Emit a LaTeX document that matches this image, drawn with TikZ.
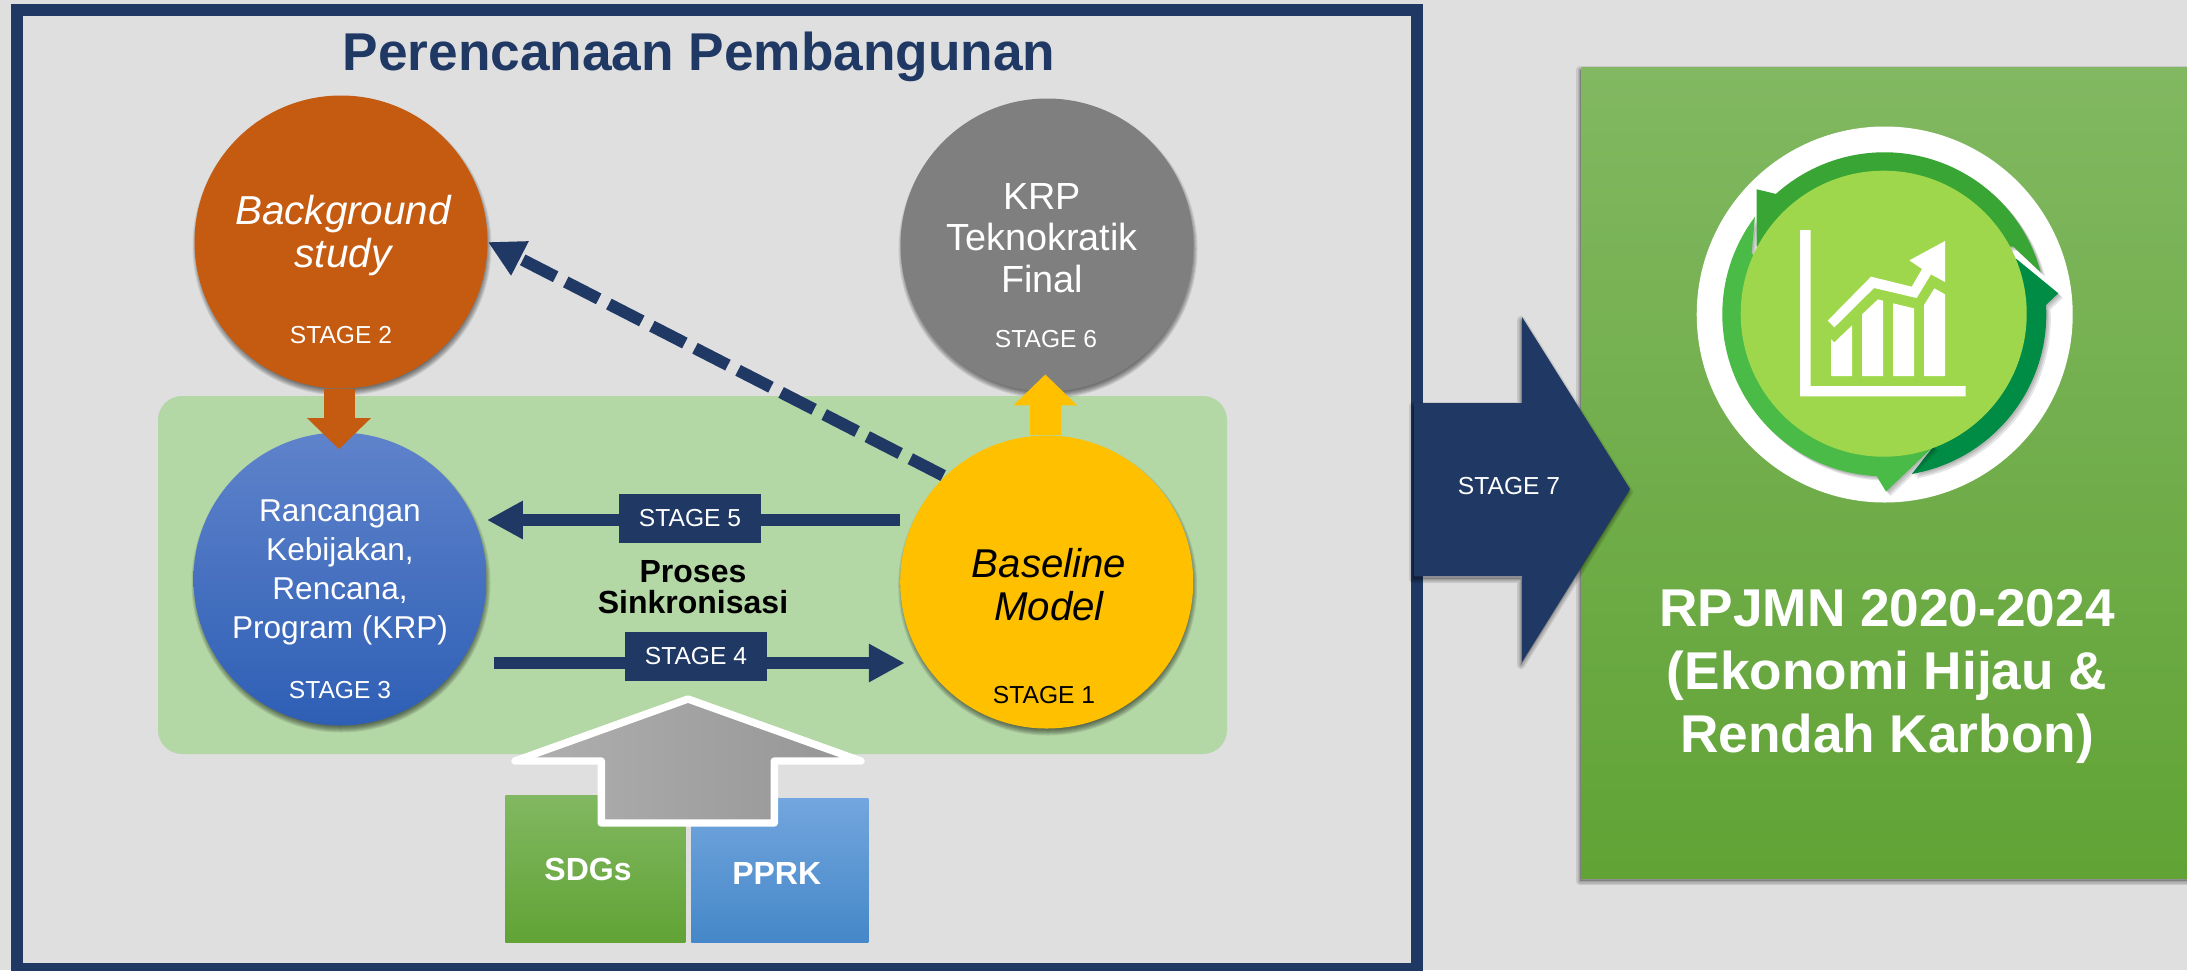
\documentclass[tikz,border=0pt]{standalone}
\usepackage{fontspec}
\setmainfont{Liberation Sans}
\usetikzlibrary{arrows.meta}
\pgfdeclarelayer{back}\pgfdeclarelayer{mid}
\pgfsetlayers{back,mid,main}
\definecolor{navy}{HTML}{1F3864}
\definecolor{pagegray}{HTML}{DFDFDF}
\definecolor{panelgreen}{HTML}{B4D7A6}
\definecolor{orangec}{HTML}{C55A11}
\definecolor{yellowc}{HTML}{FFC000}
\definecolor{grayc}{HTML}{7F7F7F}
\definecolor{gA}{HTML}{81B861}\definecolor{gB}{HTML}{6FB041}\definecolor{gC}{HTML}{61A335}
\definecolor{bA}{HTML}{5F83CB}\definecolor{bB}{HTML}{3E70CA}\definecolor{bC}{HTML}{2E5FB5}
\definecolor{pA}{HTML}{72A6DE}\definecolor{pB}{HTML}{5A9BDA}\definecolor{pC}{HTML}{4587C8}
\definecolor{ringA}{HTML}{38A535}\definecolor{ringB}{HTML}{008C44}\definecolor{ringC}{HTML}{4BBB47}
\definecolor{leaf}{HTML}{9ED74B}
\definecolor{arrL}{HTML}{B0B0B0}\definecolor{arrR}{HTML}{959595}
\newcommand\softcircle[3]{\foreach \d in {-3,-2,-1,0,1,2,3}{\fill[black,opacity=.09] ({#1+1},{#2+4}) circle[radius={(#3+\d)*0.5pt}];}}
\newcommand\softpath[3]{\foreach \w in {4,2.5,1}{\draw[draw=black,draw opacity=.1,line join=round,line width=\w pt,shift={(#1,#2)}] #3;}\fill[black,opacity=.2,shift={(#1,#2)}] #3;}
\newcommand\ringarrow[2]{\foreach \d in {1.5,3,4.5}{\fill[black,opacity=.1,shift={(\d,-\d)}] #2;}\fill[#1] #2;}
\tikzset{
  bigcircle/.style={circle,inner sep=0pt,minimum size=146.5pt},
  stagetxt/.style={font=\fontsize{12.3}{14}\selectfont,anchor=base,inner sep=0pt},
  bodytxt/.style={font=\fontsize{19}{21.5}\selectfont,align=center,inner sep=0pt},
  stagebox/.style={fill=navy,text=white,inner sep=0pt,minimum width=71pt,minimum height=24.5pt,font=\fontsize{12.3}{14}\selectfont},
  thinconn/.style={draw=navy,line width=6pt,-{Triangle[width=18pt,length=18pt]}},
  blockconn/.style={line width=15.5pt,-{Triangle[width=31pt,length=15.5pt]}}
}
\begin{document}
\begin{tikzpicture}[x=0.5pt,y=-0.5pt]
\useasboundingbox (0,0) rectangle (2187,970);
\clip (0,0) rectangle (2187,970);
\begin{pgfonlayer}{back}
\fill[pagegray] (0,0) rectangle (2187,970);
\fill[navy] (11,4) rectangle (1423,985);
\fill[pagegray] (23,16) rectangle (1411,963);
\fill[panelgreen,rounded corners=12pt] (158,396) rectangle (1227,754);
\end{pgfonlayer}

\node[font=\fontsize{26.6}{30}\bfseries\selectfont,text=navy,anchor=base,inner sep=0pt] (title) at (699,70) {Perencanaan Pembangunan};

% circles
\softcircle{341}{242}{146.5}
\node[bigcircle,fill=orangec] (bg) at (341,242) {};
\softcircle{1047}{245}{146.5}
\node[bigcircle,fill=grayc] (krp) at (1047,245) {};
\softcircle{340}{579}{146.5}
\node[bigcircle,top color=bA,middle color=bB,bottom color=bC] (ran) at (340,579) {};
\softcircle{1046.7}{582}{146.5}
\node[bigcircle,fill=yellowc] (base) at (1046.7,582) {};

% block arrows
\draw[blockconn,draw=orangec,shorten >=-8.5pt] ([xshift=-1pt]bg.south) -- ([xshift=-.5pt]ran.north);
\draw[blockconn,draw=yellowc,shorten >=-8.75pt] ([xshift=-.7pt]base.north) -- ([xshift=-.85pt]krp.south);

% labels in circles
\node[bodytxt,text=white,font=\fontsize{20.2}{21.5}\itshape\selectfont] (bgt) at (343,235.5) {Background\\study};
\node[stagetxt,text=white] (st2) at (341,343.3) {STAGE 2};
\node[bodytxt,text=white,font=\fontsize{18.9}{20.7}\selectfont] (krpt) at (1042,238) {KRP\\Teknokratik\\Final};
\node[stagetxt,text=white] (st6) at (1046,347) {STAGE 6};
\node[bodytxt,text=white,font=\fontsize{15.8}{19.5}\selectfont] (rant) at (340,572) {Rancangan\\Kebijakan,\\Rencana,\\Program (KRP)};
\node[stagetxt,text=white] (st3) at (340,698) {STAGE 3};
\node[bodytxt,text=black,font=\fontsize{20.1}{21.5}\itshape\selectfont] (baset) at (1049,585) {Baseline\\Model};
\node[stagetxt,text=black] (st1) at (1044,703) {STAGE 1};

% stage boxes and connectors
\node[stagebox] (s5) at (690,518.5) {STAGE 5};
\node[stagebox] (s4) at (696,656.5) {STAGE 4};
\begin{pgfonlayer}{mid}
\draw[thinconn] ([yshift=-.75pt]base.west |- s5) -- ([yshift=-.75pt]ran.east |- s5);
\draw[thinconn,shorten <=3.75pt,shorten >=-2.5pt] ([yshift=-3.25pt]ran.east |- s4) -- ([yshift=-3.25pt]base.west |- s4);
\draw[navy,line width=6pt,{Triangle[width=18pt,length=18pt]}-,dash pattern=on 18.5pt off 5.7pt,dash phase=21.5pt] (bg.east) -- (base.134);
\end{pgfonlayer}
\node[font=\fontsize{16}{15.5}\bfseries\selectfont,align=center,inner sep=0pt] (sync) at (693,587) {Proses\\Sinkronisasi};

% right panel
\softpath{-1}{3}{(1581,67) rectangle (2200,878)}
\node[inner sep=0pt,minimum width=303pt,minimum height=405.5pt,top color=gA,middle color=gB,bottom color=gC,anchor=north west] (rpanel) at (1581,67) {};
% stage 7 block arrow
\softpath{-1}{3}{(1414,403)--(1522,403)--(1522,317)--(1630,489)--(1522,662)--(1522,576)--(1414,576)--cycle}
\fill[navy] (1414,403)--(1522,403)--(1522,317)--(1630,489)--(1522,662)--(1522,576)--(1414,576)--cycle;
\node[stagetxt,text=white] (st7) at (1509,494) {STAGE 7};
\node[font=\fontsize{26.6}{31.5}\bfseries\selectfont,align=center,text=white,inner sep=0pt] (rtext) at (1887,676) {RPJMN 2020-2024\\(Ekonomi Hijau \&\\Rendah Karbon)};

% icon
\node[circle,fill=white,inner sep=0pt,minimum size=188pt] (badge) at (1884.7,314.5) {};
\begin{scope}[shift={(1884.3,314.3)},x=.5pt,y=.5pt]
\ringarrow{ringB}{(131.3,56)--(174,21)--(3.3:81pt) arc[start angle=3.3,end angle=-80.2,radius=81pt]--(49,-132.3)--cycle}
\ringarrow{ringC}{(-132.7,61)--(143:81pt) arc[start angle=143,end angle=267.3,radius=81pt]--(1.7,-177.3)--(49,-132.3)--cycle}
\ringarrow{ringA}{(129,67.7)--(15:81pt) arc[start angle=15,end angle=132,radius=81pt]--(-127.7,125)--(-127.7,67.7)--cycle}
\end{scope}
\node[circle,fill=leaf,inner sep=0pt,minimum size=143pt] (disc) at (1883.7,313.7) {};
\begin{scope}[shift={(1650,100)},x=.16667pt,y=-.16667pt]
\fill[white] (450,390)--(482,390)--(482,858)--(947,858)--(947,889)--(450,889)--cycle;
\fill[white] (543,718)--(553,727)--(606,676)--(606,828)--(543,828)--cycle;
\fill[white] (636,643)--(684,598)--(699,602)--(699,828)--(636,828)--cycle;
\fill[white] (729,610)--(792,625)--(792,828)--(729,828)--cycle;
\fill[white] (822,615)--(853,565)--(885,583)--(885,828)--(822,828)--cycle;
\fill[white] (533,662)--(663,530)--(785,560)--(816,507)--(778,481)--(885,423)--(885,546)--(843,523)--(800,594)--(672,564)--(553,682)--cycle;
\end{scope}

% bottom boxes
\node[inner sep=0pt,minimum width=90pt,minimum height=73.5pt,top color=gA,middle color=gB,bottom color=gC,anchor=north west] (sdg) at (505,795) {};
\node[inner sep=0pt,minimum width=88.5pt,minimum height=72pt,top color=pA,middle color=pB,bottom color=pC,anchor=north west] (pprk) at (691,798) {};
\node[text=white,font=\fontsize{16}{18}\bfseries\selectfont,inner sep=0pt] (sdgt) at (588,869) {SDGs};
\node[text=white,font=\fontsize{16}{18}\bfseries\selectfont,inner sep=0pt] (pprkt) at (776.7,873) {PPRK};
\draw[white,line width=3.7pt,line join=round,left color=arrL,right color=arrR] (688,699)--(861,761)--(774.3,761)--(774.3,823)--(601.3,823)--(601.3,761)--(515,761)--cycle;
\end{tikzpicture}
\end{document}
